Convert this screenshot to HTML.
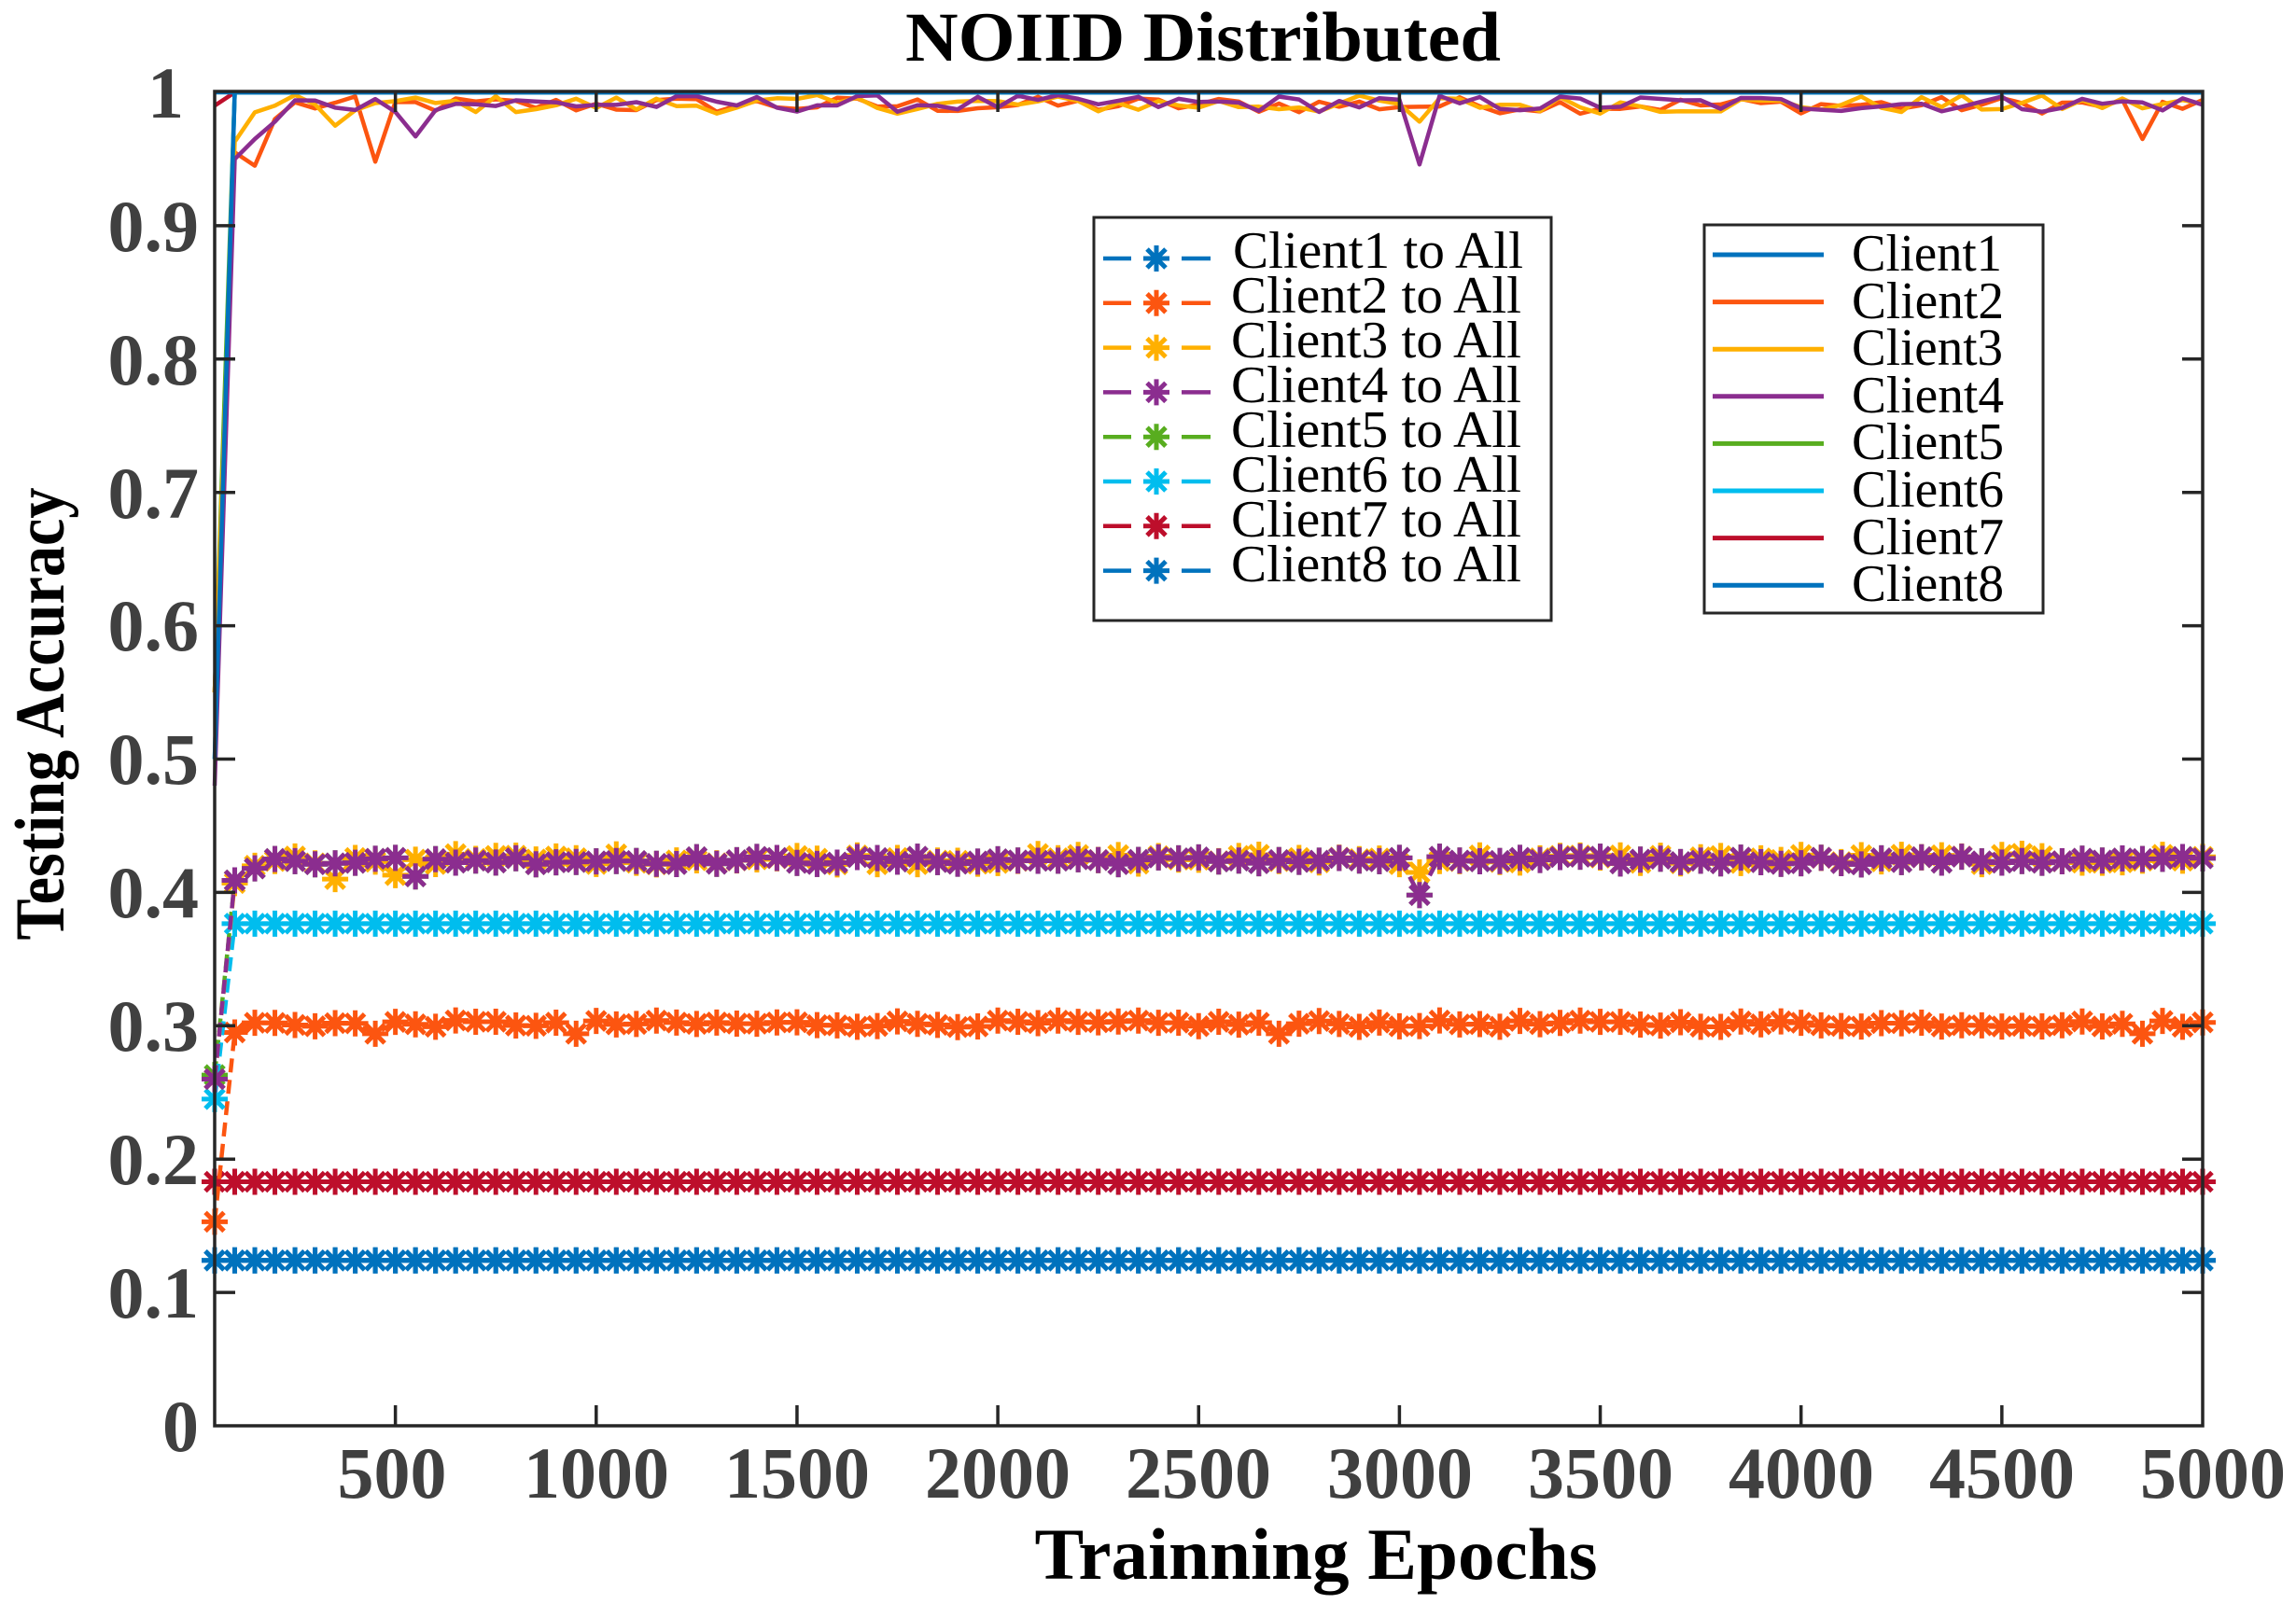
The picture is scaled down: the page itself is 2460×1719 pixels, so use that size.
<!DOCTYPE html>
<html><head><meta charset="utf-8"><style>
html,body{margin:0;padding:0;background:#fff;}
svg{display:block;}
.tk{font-family:"Liberation Serif",serif;font-weight:bold;font-size:78px;fill:#404040;}
.ttl{font-family:"Liberation Serif",serif;font-weight:bold;fill:#000;}
.lg{font-family:"Liberation Serif",serif;font-size:56px;fill:#000;}
</style></head><body>
<svg id="s" width="2460" height="1719" viewBox="0 0 2460 1719" xmlns="http://www.w3.org/2000/svg">
<defs>
<clipPath id="cp"><rect x="200" y="80" width="2200" height="1460"/></clipPath>
</defs>
<g id="data"></g>
<rect x="230" y="98" width="2130" height="1430" fill="none" stroke="#262626" stroke-width="3.5"/>
<g id="ticks" stroke="#262626" stroke-width="3.5"></g>
<g class="tk" text-anchor="end">
<text x="213" y="1555">0</text>
<text x="213" y="1412">0.1</text>
<text x="213" y="1269">0.2</text>
<text x="213" y="1126">0.3</text>
<text x="213" y="983">0.4</text>
<text x="213" y="840">0.5</text>
<text x="213" y="697">0.6</text>
<text x="213" y="555">0.7</text>
<text x="213" y="412">0.8</text>
<text x="213" y="269">0.9</text>
<text x="197" y="126">1</text>
</g>
<g class="tk" text-anchor="middle">
<text x="420" y="1605">500</text>
<text x="639" y="1605">1000</text>
<text x="854" y="1605">1500</text>
<text x="1069" y="1605">2000</text>
<text x="1284" y="1605">2500</text>
<text x="1500" y="1605">3000</text>
<text x="1715" y="1605">3500</text>
<text x="1930" y="1605">4000</text>
<text x="2145" y="1605">4500</text>
<text x="2371" y="1605">5000</text>
</g>
<text class="ttl" x="1289" y="65" font-size="75" text-anchor="middle" textLength="638" lengthAdjust="spacingAndGlyphs">NOIID Distributed</text>
<text class="ttl" x="1410" y="1692" font-size="78" text-anchor="middle" textLength="603" lengthAdjust="spacingAndGlyphs">Trainning Epochs</text>
<text class="ttl" transform="translate(68,765) rotate(-90)" font-size="75" text-anchor="middle" textLength="485" lengthAdjust="spacingAndGlyphs">Testing Accuracy</text>
<rect x="1172" y="233" width="490" height="432" fill="#fff" stroke="#262626" stroke-width="3"/>
<g id="lg1"></g>
<g class="lg">
<text x="1321" y="287" textLength="311" lengthAdjust="spacingAndGlyphs">Client1 to All</text>
<text x="1319" y="335" textLength="311" lengthAdjust="spacingAndGlyphs">Client2 to All</text>
<text x="1319" y="383" textLength="311" lengthAdjust="spacingAndGlyphs">Client3 to All</text>
<text x="1319" y="431" textLength="311" lengthAdjust="spacingAndGlyphs">Client4 to All</text>
<text x="1319" y="479" textLength="311" lengthAdjust="spacingAndGlyphs">Client5 to All</text>
<text x="1319" y="527" textLength="311" lengthAdjust="spacingAndGlyphs">Client6 to All</text>
<text x="1319" y="575" textLength="311" lengthAdjust="spacingAndGlyphs">Client7 to All</text>
<text x="1319" y="623" textLength="311" lengthAdjust="spacingAndGlyphs">Client8 to All</text>
</g>
<rect x="1826" y="241" width="363" height="416" fill="#fff" stroke="#262626" stroke-width="3"/>
<g id="lg2"></g>
<g class="lg">
<text x="1984" y="290" textLength="161" lengthAdjust="spacingAndGlyphs">Client1</text>
<text x="1984" y="341" textLength="163" lengthAdjust="spacingAndGlyphs">Client2</text>
<text x="1984" y="391" textLength="162" lengthAdjust="spacingAndGlyphs">Client3</text>
<text x="1984" y="442" textLength="163" lengthAdjust="spacingAndGlyphs">Client4</text>
<text x="1984" y="492" textLength="163" lengthAdjust="spacingAndGlyphs">Client5</text>
<text x="1984" y="543" textLength="163" lengthAdjust="spacingAndGlyphs">Client6</text>
<text x="1984" y="594" textLength="163" lengthAdjust="spacingAndGlyphs">Client7</text>
<text x="1984" y="644" textLength="163" lengthAdjust="spacingAndGlyphs">Client8</text>
</g>
</svg>
<script>
(function(){
var NS="http://www.w3.org/2000/svg";
function el(t,a,p){var e=document.createElementNS(NS,t);for(var k in a)e.setAttribute(k,a[k]);p.appendChild(e);return e;}
var X=function(e){return 230+(e-50)*2130/4950;};
var Y=function(v){return 1528-v*1429;};
var C=["#0072bd","#fc5510","#ffb000","#8b2d8f","#58ad1f","#00bdee","#bd0e2b","#0072bd"];
var seed=12345;function rnd(){seed=(seed*1103515245+12345)%2147483648;return seed/2147483648;}
var N=100;
function arr(f){var a=[];for(var k=0;k<N;k++)a.push(f(k,50+50*k));return a;}
var tg=document.getElementById("ticks");
for(var i=1;i<=9;i++){var x=X(500*i);
 el("line",{x1:x,y1:1528,x2:x,y2:1506},tg);el("line",{x1:x,y1:98,x2:x,y2:120},tg);}
for(var i=1;i<10;i++){var y=Y(i/10);
 el("line",{x1:230,y1:y,x2:252,y2:y},tg);el("line",{x1:2360,y1:y,x2:2338,y2:y},tg);}
var up=[];
up[0]=arr(function(){return 1;});
up[1]=arr(function(k,e){if(k==0)return 0.55;if(k==1)return 0.955;if(k==2)return 0.945;if(k==3)return 0.98;
 if(e==450)return 0.948;if(e==4850)return 0.965;return 0.984+rnd()*0.013;});
up[2]=arr(function(k,e){if(k==0)return 0.55;if(k==1)return 0.963;if(k==2)return 0.985;if(k==3)return 0.99;
 if(e==350)return 0.975;if(e==3050)return 0.978;return 0.984+rnd()*0.014;});
up[3]=arr(function(k,e){if(k==0)return 0.48;if(k==1)return 0.95;if(k==2)return 0.965;if(k==3)return 0.978;
 if(e==550)return 0.967;if(e==3050)return 0.946;return 0.985+rnd()*0.013;});
up[4]=arr(function(k){return k==0?0.55:1;});
up[5]=arr(function(k){return k==0?0.5:1;});
up[6]=arr(function(k){return k==0?0.99:1;});
up[7]=arr(function(k){return k==0?0.5:1;});
var dg=document.getElementById("data");
var g=el("g",{"clip-path":"url(#cp)",fill:"none","stroke-width":"4.5","stroke-linejoin":"round"},dg);
function path(vals,col,extra){var d="";for(var k=0;k<N;k++){d+=(k?"L":"M")+X(50+50*k).toFixed(1)+","+Y(vals[k]).toFixed(1);}
 var a={d:d,stroke:col};for(var q in extra)a[q]=extra[q];return el("path",a,g);}
var order=[6,4,5,1,2,3,7,0];
for(var j=0;j<order.length;j++){var s=order[j];path(up[s],C[s],{});}
var lo=[];
lo[0]=arr(function(){return 0.124;});
lo[7]=lo[0];
lo[6]=arr(function(){return 0.183;});
lo[1]=arr(function(k,e){if(k==0)return 0.153;if(k==1)return 0.295;if(e==450||e==950||e==2700||e==4850)return 0.294;return 0.299+rnd()*0.005;});
lo[5]=arr(function(k){return k==0?0.245:0.3766;});
lo[3]=arr(function(k,e){if(k==0)return 0.26;if(k==1)return 0.409;if(k==2)return 0.418;if(e==3050)return 0.398;if(e==550)return 0.412;
 return 0.421+rnd()*0.006;});
lo[2]=arr(function(k,e){if(k==0)return 0.26;if(k==1)return 0.407;if(k==2)return 0.42;if(e==350)return 0.41;if(e==500)return 0.413;if(e==3050)return 0.415;
 return 0.421+rnd()*0.008;});
lo[4]=arr(function(k,e){return k==0?0.263:lo[3][k];});
function star(x,y,col,p){el("path",{d:"M"+(x-14)+","+y+"h28M"+x+","+(y-14)+"v28M"+(x-10)+","+(y-10)+"l20,20M"+(x-10)+","+(y+10)+"l20,-20",stroke:col,"stroke-width":"5",fill:"none"},p);}
var ord2=[0,6,1,4,5,2,3,7];
for(var j=0;j<ord2.length;j++){var s=ord2[j];
 path(lo[s],C[s],{"stroke-dasharray":"15,8"});
 for(var k=0;k<N;k++)star(X(50+50*k),Y(lo[s][k]),C[s],g);}
var l1=document.getElementById("lg1"),l2=document.getElementById("lg2");
for(var i=0;i<8;i++){var y=277+i*47.8;
 el("line",{x1:1182,y1:y,x2:1212,y2:y,stroke:C[i],"stroke-width":"4.5"},l1);
 el("line",{x1:1266,y1:y,x2:1297,y2:y,stroke:C[i],"stroke-width":"4.5"},l1);
 star(1239,y,C[i],l1);
 var y2=273+i*50.6;
 el("line",{x1:1835,y1:y2,x2:1954,y2:y2,stroke:C[i],"stroke-width":"5"},l2);}
})();
</script>
</body></html>
